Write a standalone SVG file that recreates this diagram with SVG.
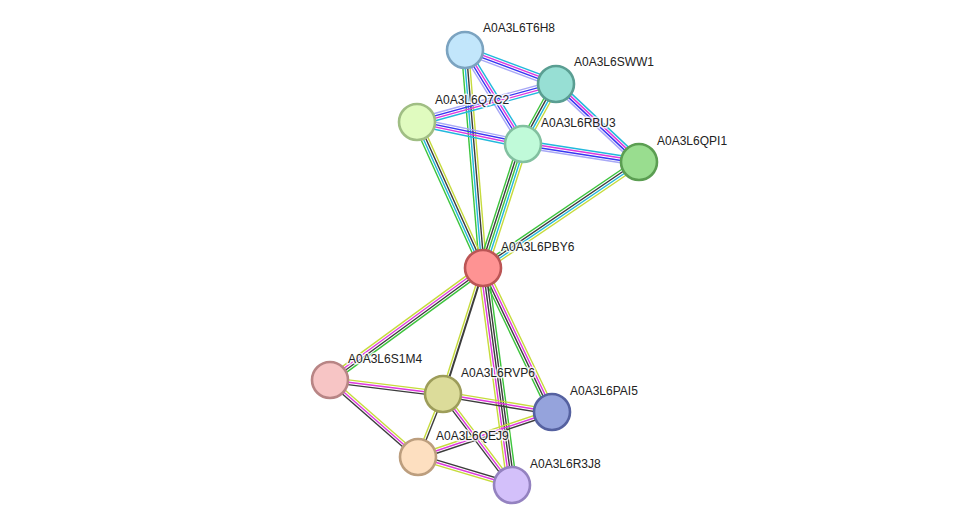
<svg xmlns="http://www.w3.org/2000/svg" width="976" height="531" viewBox="0 0 976 531">
<style>
line{stroke-width:1.4;fill:none}
.g{stroke:#3cc43c}.c{stroke:#22b8dc}.k{stroke:#3c3c3c}.y{stroke:#c6db3c}.m{stroke:#de38de}.b{stroke:#3636f2}.l{stroke:#a8a8f6}
.node circle{stroke-width:2.6}
.node text{font-family:"Liberation Sans",Arial,sans-serif;font-size:12px;fill:#222;stroke:#fff;stroke-width:3;stroke-opacity:0.8;paint-order:stroke;stroke-linejoin:round}
</style>
<rect width="976" height="531" fill="#fff"/>
<g id="edges">
<g transform="translate(465,50) rotate(20.48)"><line class="c" x1="0" y1="-3.6" x2="97.1" y2="-3.6"/><line class="m" x1="0" y1="-1.2" x2="97.1" y2="-1.2"/><line class="b" x1="0" y1="1.2" x2="97.1" y2="1.2"/><line class="l" x1="0" y1="3.6" x2="97.1" y2="3.6"/></g>
<g transform="translate(465,50) rotate(58.33)"><line class="c" x1="0" y1="-3.6" x2="110.5" y2="-3.6"/><line class="m" x1="0" y1="-1.2" x2="110.5" y2="-1.2"/><line class="b" x1="0" y1="1.2" x2="110.5" y2="1.2"/><line class="l" x1="0" y1="3.6" x2="110.5" y2="3.6"/></g>
<g transform="translate(465,50) rotate(85.28)"><line class="y" x1="0" y1="-3.6" x2="218.7" y2="-3.6"/><line class="k" x1="0" y1="-1.2" x2="218.7" y2="-1.2"/><line class="c" x1="0" y1="1.2" x2="218.7" y2="1.2"/><line class="g" x1="0" y1="3.6" x2="218.7" y2="3.6"/></g>
<g transform="translate(417,122) rotate(-15.29)"><line class="l" x1="0" y1="-3.6" x2="144.1" y2="-3.6"/><line class="b" x1="0" y1="-1.2" x2="144.1" y2="-1.2"/><line class="m" x1="0" y1="1.2" x2="144.1" y2="1.2"/><line class="c" x1="0" y1="3.6" x2="144.1" y2="3.6"/></g>
<g transform="translate(523,144) rotate(-61.19)"><line class="g" x1="0" y1="-3.6" x2="68.5" y2="-3.6"/><line class="k" x1="0" y1="-1.2" x2="68.5" y2="-1.2"/><line class="c" x1="0" y1="1.2" x2="68.5" y2="1.2"/><line class="y" x1="0" y1="3.6" x2="68.5" y2="3.6"/></g>
<g transform="translate(556,84) rotate(43.22)"><line class="c" x1="0" y1="-3.6" x2="113.9" y2="-3.6"/><line class="m" x1="0" y1="-1.2" x2="113.9" y2="-1.2"/><line class="b" x1="0" y1="1.2" x2="113.9" y2="1.2"/><line class="l" x1="0" y1="3.6" x2="113.9" y2="3.6"/></g>
<g transform="translate(417,122) rotate(11.73)"><line class="l" x1="0" y1="-3.6" x2="108.3" y2="-3.6"/><line class="b" x1="0" y1="-1.2" x2="108.3" y2="-1.2"/><line class="m" x1="0" y1="1.2" x2="108.3" y2="1.2"/><line class="c" x1="0" y1="3.6" x2="108.3" y2="3.6"/></g>
<g transform="translate(417,122) rotate(65.67)"><line class="y" x1="0" y1="-3.6" x2="160.2" y2="-3.6"/><line class="k" x1="0" y1="-1.2" x2="160.2" y2="-1.2"/><line class="c" x1="0" y1="1.2" x2="160.2" y2="1.2"/><line class="g" x1="0" y1="3.6" x2="160.2" y2="3.6"/></g>
<g transform="translate(523,144) rotate(8.82)"><line class="c" x1="0" y1="-3.6" x2="117.4" y2="-3.6"/><line class="m" x1="0" y1="-1.2" x2="117.4" y2="-1.2"/><line class="b" x1="0" y1="1.2" x2="117.4" y2="1.2"/><line class="l" x1="0" y1="3.6" x2="117.4" y2="3.6"/></g>
<g transform="translate(483,268) rotate(-72.12)"><line class="g" x1="0" y1="-4.8" x2="130.3" y2="-4.8"/><line class="k" x1="0" y1="-2.4" x2="130.3" y2="-2.4"/><line class="g" x1="0" y1="0" x2="130.3" y2="0"/><line class="c" x1="0" y1="2.4" x2="130.3" y2="2.4"/><line class="y" x1="0" y1="4.8" x2="130.3" y2="4.8"/></g>
<g transform="translate(483,268) rotate(-34.19)"><line class="g" x1="0" y1="-3.6" x2="188.6" y2="-3.6"/><line class="k" x1="0" y1="-1.2" x2="188.6" y2="-1.2"/><line class="c" x1="0" y1="1.2" x2="188.6" y2="1.2"/><line class="y" x1="0" y1="3.6" x2="188.6" y2="3.6"/></g>
<g transform="translate(330,380) rotate(-36.2)"><line class="y" x1="0" y1="-3.6" x2="189.6" y2="-3.6"/><line class="m" x1="0" y1="-1.2" x2="189.6" y2="-1.2"/><line class="k" x1="0" y1="1.2" x2="189.6" y2="1.2"/><line class="g" x1="0" y1="3.6" x2="189.6" y2="3.6"/></g>
<g transform="translate(443,394) rotate(-72.39)"><line class="y" x1="0" y1="-1.6" x2="132.2" y2="-1.6"/><line class="k" x1="0" y1="1" x2="132.2" y2="1" style="stroke-width:2"/></g>
<g transform="translate(483,268) rotate(64.4)"><line class="y" x1="0" y1="-3.6" x2="159.7" y2="-3.6"/><line class="m" x1="0" y1="-1.2" x2="159.7" y2="-1.2"/><line class="k" x1="0" y1="1.2" x2="159.7" y2="1.2"/><line class="g" x1="0" y1="3.6" x2="159.7" y2="3.6"/></g>
<g transform="translate(483,268) rotate(82.39)"><line class="g" x1="0" y1="-4.8" x2="218.9" y2="-4.8"/><line class="k" x1="0" y1="-2.4" x2="218.9" y2="-2.4"/><line class="k" x1="0" y1="0" x2="218.9" y2="0"/><line class="m" x1="0" y1="2.4" x2="218.9" y2="2.4"/><line class="y" x1="0" y1="4.8" x2="218.9" y2="4.8"/></g>
<g transform="translate(330,380) rotate(7.06)"><line class="y" x1="0" y1="-2.4" x2="113.9" y2="-2.4"/><line class="m" x1="0" y1="0" x2="113.9" y2="0"/><line class="k" x1="0" y1="2.4" x2="113.9" y2="2.4"/></g>
<g transform="translate(330,380) rotate(41.19)"><line class="y" x1="0" y1="-2.4" x2="116.9" y2="-2.4"/><line class="m" x1="0" y1="0" x2="116.9" y2="0"/><line class="k" x1="0" y1="2.4" x2="116.9" y2="2.4"/></g>
<g transform="translate(443,394) rotate(9.38)"><line class="y" x1="0" y1="-2.4" x2="110.5" y2="-2.4"/><line class="m" x1="0" y1="0" x2="110.5" y2="0"/><line class="k" x1="0" y1="2.4" x2="110.5" y2="2.4"/></g>
<g transform="translate(418,457) rotate(-68.36)"><line class="y" x1="0" y1="-1.2" x2="67.8" y2="-1.2"/><line class="k" x1="0" y1="1.2" x2="67.8" y2="1.2"/></g>
<g transform="translate(443,394) rotate(52.83)"><line class="y" x1="0" y1="-2.4" x2="114.2" y2="-2.4"/><line class="m" x1="0" y1="0" x2="114.2" y2="0"/><line class="k" x1="0" y1="2.4" x2="114.2" y2="2.4"/></g>
<g transform="translate(418,457) rotate(-18.56)"><line class="y" x1="0" y1="-2.4" x2="141.4" y2="-2.4"/><line class="m" x1="0" y1="0" x2="141.4" y2="0"/><line class="k" x1="0" y1="2.4" x2="141.4" y2="2.4"/></g>
<g transform="translate(418,457) rotate(16.59)"><line class="k" x1="0" y1="-2.4" x2="98.1" y2="-2.4"/><line class="m" x1="0" y1="0" x2="98.1" y2="0"/><line class="y" x1="0" y1="2.4" x2="98.1" y2="2.4"/></g>
</g>
<g id="T6H8" class="node"><circle cx="465" cy="50" r="18" fill="#c2e6fb" stroke="#7ba3c0"/><text x="483" y="32">A0A3L6T6H8</text></g>
<g id="SWW1" class="node"><circle cx="556" cy="84" r="18" fill="#97dfd4" stroke="#5a9e92"/><text x="574" y="66">A0A3L6SWW1</text></g>
<g id="Q7C2" class="node"><circle cx="417" cy="122" r="18" fill="#e0fbbf" stroke="#a0be84"/><text x="435" y="104">A0A3L6Q7C2</text></g>
<g id="RBU3" class="node"><circle cx="523" cy="144" r="18" fill="#c0fad9" stroke="#82c0a0"/><text x="541" y="127">A0A3L6RBU3</text></g>
<g id="QPI1" class="node"><circle cx="639" cy="162" r="18" fill="#99dd8f" stroke="#5b9e52"/><text x="657" y="145">A0A3L6QPI1</text></g>
<g id="PBY6" class="node"><circle cx="483" cy="268" r="18" fill="#fe9393" stroke="#bb5555"/><text x="501" y="251">A0A3L6PBY6</text></g>
<g id="S1M4" class="node"><circle cx="330" cy="380" r="18" fill="#f7c5c5" stroke="#b88585"/><text x="348" y="363">A0A3L6S1M4</text></g>
<g id="RVP6" class="node"><circle cx="443" cy="394" r="18" fill="#dcdc9a" stroke="#9d9d5a"/><text x="461" y="377">A0A3L6RVP6</text></g>
<g id="PAI5" class="node"><circle cx="552" cy="412" r="18" fill="#95a3dc" stroke="#5561a0"/><text x="570" y="395">A0A3L6PAI5</text></g>
<g id="QEJ9" class="node"><circle cx="418" cy="457" r="18" fill="#fddfc0" stroke="#bc9e7e"/><text x="436" y="440">A0A3L6QEJ9</text></g>
<g id="R3J8" class="node"><circle cx="512" cy="485" r="18" fill="#d3c0fa" stroke="#9482c0"/><text x="530" y="468">A0A3L6R3J8</text></g>
</svg>
